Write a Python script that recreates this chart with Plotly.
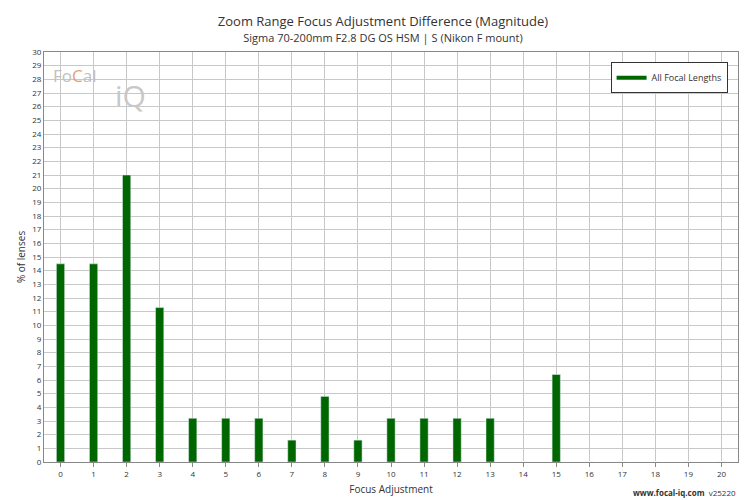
import plotly.graph_objects as go

categories = list(range(21))
values = [14.5, 14.5, 21.0, 11.3, 3.2, 3.2, 3.2, 1.6, 4.8, 1.6, 3.2, 3.2, 3.2, 3.2, 0, 6.4, 0, 0, 0, 0, 0]
series_name = "All Focal Lengths"

fig = go.Figure()
fig.add_trace(go.Bar(x=categories, y=values, name=series_name, marker_color="#006600",
                     width=0.25, showlegend=False))
fig.add_trace(go.Scatter(x=[None], y=[None], mode="lines", name=series_name,
                         line=dict(color="#006600", width=4), showlegend=True))
fig.update_layout(
    width=750, height=500, plot_bgcolor="white", paper_bgcolor="white",
    font=dict(family="Open Sans", size=10, color="#333"),
    margin=dict(l=36, r=20, t=44, b=46, autoexpand=False),
    title=dict(text="Zoom Range Focus Adjustment Difference (Magnitude)<br><span style='font-size:11px'>Sigma 70-200mm F2.8 DG OS HSM | S (Nikon F mount)</span>",
               x=0.5, y=0.965, font=dict(size=13, color="#333")),
    xaxis=dict(title=dict(text="Focus Adjustment", font=dict(size=10), standoff=8), range=[-0.5, 20.5],
               tickmode="linear", dtick=1, showgrid=True, gridcolor="#c8c8c8",
               showline=True, linecolor="#888", mirror=True, tickfont=dict(size=8), ticks="outside", ticklen=4, tickcolor="#888"),
    yaxis=dict(title=dict(text="% of lenses", font=dict(size=10), standoff=4), range=[0, 30], dtick=1,
               showgrid=True, gridcolor="#c8c8c8", showline=True, linecolor="#888", mirror=True,
               tickfont=dict(size=8)),
    legend=dict(x=0.985, y=0.975, xanchor="right", yanchor="top", bordercolor="#333", borderwidth=1,
                font=dict(size=9), bgcolor="white"),
    bargap=0.7,
)
fig.add_annotation(text="Fo<span style='color:#e8a070'>C</span>al", x=0.01, y=0.975, xref="paper", yref="paper",
                   xanchor="left", yanchor="top", showarrow=False, font=dict(size=17, color="#c0c0c0"))
fig.add_annotation(text="iQ", x=0.1, y=0.95, xref="paper", yref="paper",
                   xanchor="left", yanchor="top", showarrow=False, font=dict(size=30, color="#c8c8c8"))
fig.add_annotation(text="<b>www.focal-iq.com</b>  v25220", x=1.0, y=-0.055, xref="paper", yref="paper",
                   xanchor="right", yanchor="top", showarrow=False, font=dict(size=8, color="#333"))
fig.write_html("out.html")
